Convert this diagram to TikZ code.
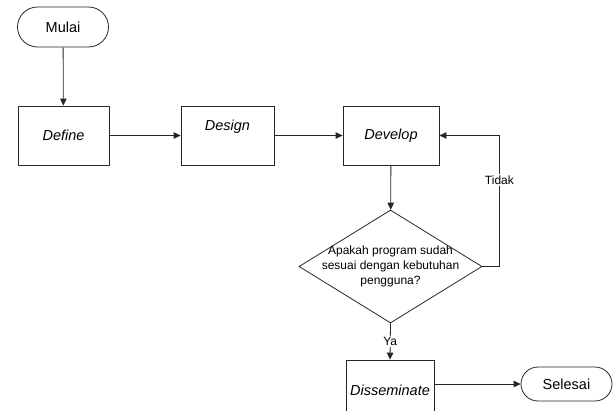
\documentclass[tikz,border=0pt]{standalone}
\usepackage{fontspec}
\setmainfont{Liberation Sans}
\usepackage{tikz}
\usetikzlibrary{positioning, calc}
\usetikzlibrary{shapes.misc, shapes.geometric, arrows.meta}

\tikzset{
    garis/.style={line width=0.8pt, draw=black!85},
    panah/.style={garis, -{Triangle[length=7pt,width=6.5pt]}},
    terminal/.style={garis, rounded rectangle, minimum width=91pt, inner sep=0pt,
        font=\fontsize{14.5}{17}\selectfont},
    proses/.style={garis, rectangle, minimum width=92pt, minimum height=59pt, inner sep=0pt,
        font=\fontsize{14.5}{17}\selectfont\itshape},
    keputusan/.style={garis, diamond, minimum width=183pt, minimum height=113pt, inner sep=0pt},
    teks/.style={font=\fontsize{12}{15}\selectfont, align=center, inner sep=1pt},
    ket/.style={teks, fill=white, inner sep=1.5pt}
}

\begin{document}
\begin{tikzpicture}[x=1pt, y=-1pt]
    \clip (0,0) rectangle (613,410);
    \useasboundingbox (0,0) rectangle (613,410);

    % simbol-simbol
    \node[terminal, minimum height=40pt] (mulai) at (63,27) {Mulai};
    \node[proses, minimum width=91pt] (define) at (63.5,135.5) {Define};
    \node[proses, minimum width=93pt, text depth=21pt] (design) at (227.5,135.5) {Design};
    \node[proses, minimum width=96pt] (develop) at (391,135.5) {Develop};
    \node[keputusan] (cek) at (390.5,266.5) {};
    \node[teks] (cektext) at (cek.center) {Apakah program sudah\\sesuai dengan kebutuhan\\pengguna?};
    \node[proses, minimum width=88pt, minimum height=60pt] (dissem) at (390,390) {Disseminate};
    \node[terminal, minimum height=34pt] (selesai) at (566.5,384) {Selesai};

    % alur
    \draw[panah] (mulai) -- (define);
    \draw[panah] (define) -- (design);
    \draw[panah] (design) -- (develop);
    \draw[panah] (develop) -- (cek);
    \draw[panah] (cek.east) -- ++(17,0) |- (develop.east) node[ket, pos=0.33] (tidak) {Tidak};
    \draw[panah] (cek.south) -- (dissem.north) node[ket, midway] (ya) {Ya};
    \draw[panah] (dissem.east |- selesai.west) -- (selesai.west);
\end{tikzpicture}
\end{document}
